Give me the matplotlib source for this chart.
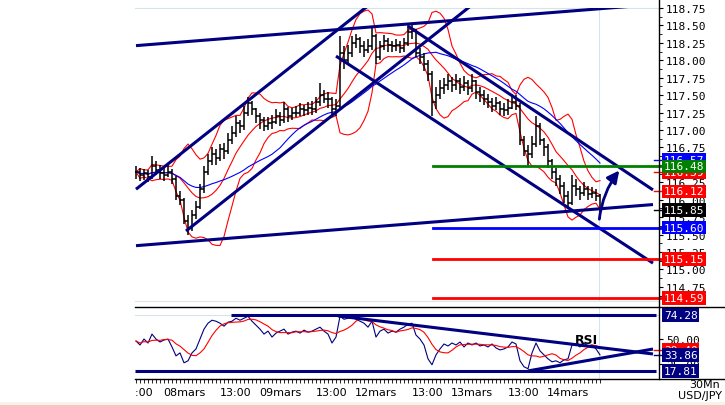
import numpy as np
import pandas as pd
import matplotlib
matplotlib.use("Agg")
import matplotlib.pyplot as plt
from matplotlib.lines import Line2D
from matplotlib.patches import FancyArrowPatch, Rectangle

# USD/JPY 30Mn, one bar per hour (07mars 12:00 -> 14mars 20:00)
close = [116.40, 116.35, 116.38, 116.33, 116.48, 116.42, 116.38, 116.35, 116.40, 116.30,
         116.05, 116.00, 115.70, 115.60, 115.78, 115.90, 116.15, 116.40, 116.55, 116.65,
         116.60, 116.72, 116.70, 116.85, 116.95, 117.10, 117.05, 117.25, 117.38, 117.30,
         117.20, 117.15, 117.05, 117.10, 117.12, 117.20, 117.15, 117.30, 117.20, 117.25,
         117.25, 117.30, 117.28, 117.32, 117.30, 117.40, 117.50, 117.45, 117.45, 117.30,
         117.35, 118.10, 118.00, 118.10, 118.25, 118.30, 118.20, 118.15, 118.20, 118.35,
         118.05, 118.20, 118.28, 118.22, 118.20, 118.22, 118.18, 118.25, 118.40, 118.42,
         118.10, 118.05, 117.95, 117.80, 117.40, 117.50, 117.60, 117.65, 117.70, 117.65,
         117.70, 117.62, 117.68, 117.60, 117.70, 117.55, 117.50, 117.45, 117.40, 117.35,
         117.38, 117.30, 117.28, 117.32, 117.40, 117.35, 116.85, 116.70, 116.65, 116.80,
         117.05, 116.85, 116.75, 116.55, 116.40, 116.30, 116.20, 116.05, 115.95, 116.20,
         116.15, 116.10, 116.15, 116.08, 116.10, 116.05, 115.85]
high = [116.48, 116.45, 116.44, 116.42, 116.62, 116.55, 116.50, 116.46, 116.50, 116.44,
        116.34, 116.12, 116.02, 115.78, 115.85, 115.98, 116.22, 116.48, 116.65, 116.75,
        116.72, 116.80, 116.82, 116.95, 117.05, 117.20, 117.15, 117.35, 117.48, 117.42,
        117.32, 117.25, 117.18, 117.18, 117.22, 117.30, 117.26, 117.40, 117.33, 117.32,
        117.35, 117.38, 117.36, 117.40, 117.42, 117.48, 117.68, 117.58, 117.55, 117.48,
        117.45, 118.35, 118.20, 118.22, 118.35, 118.38, 118.33, 118.28, 118.30, 118.48,
        118.38, 118.28, 118.36, 118.32, 118.28, 118.30, 118.28, 118.32, 118.50, 118.50,
        118.45, 118.18, 118.10, 118.00, 117.85, 117.62, 117.72, 117.75, 117.80, 117.76,
        117.80, 117.74, 117.78, 117.72, 117.80, 117.72, 117.62, 117.58, 117.52, 117.46,
        117.48, 117.42, 117.38, 117.45, 117.52, 117.50, 117.38, 116.92, 116.78, 116.92,
        117.20, 117.10, 116.88, 116.80, 116.58, 116.45, 116.35, 116.25, 116.12, 116.35,
        116.30, 116.20, 116.25, 116.20, 116.18, 116.15, 116.08]
low = [116.30, 116.27, 116.28, 116.25, 116.30, 116.35, 116.30, 116.27, 116.32, 116.22,
       116.00, 115.92, 115.65, 115.50, 115.55, 115.72, 115.86, 116.10, 116.35, 116.50,
       116.50, 116.55, 116.58, 116.65, 116.80, 116.90, 116.95, 117.00, 117.20, 117.22,
       117.10, 117.02, 116.98, 117.00, 117.02, 117.08, 117.05, 117.10, 117.12, 117.15,
       117.18, 117.20, 117.20, 117.22, 117.22, 117.25, 117.35, 117.38, 117.32, 117.18,
       117.20, 117.30, 117.88, 117.95, 118.05, 118.18, 118.10, 118.05, 118.10, 118.15,
       117.95, 118.00, 118.15, 118.12, 118.12, 118.14, 118.10, 118.12, 118.20, 118.30,
       118.05, 117.95, 117.85, 117.70, 117.20, 117.30, 117.45, 117.52, 117.58, 117.55,
       117.58, 117.52, 117.56, 117.50, 117.55, 117.45, 117.40, 117.36, 117.32, 117.26,
       117.28, 117.22, 117.20, 117.22, 117.30, 117.28, 116.78, 116.62, 116.48, 116.60,
       116.75, 116.78, 116.62, 116.45, 116.30, 116.20, 116.08, 115.95, 115.87, 115.92,
       116.05, 116.00, 116.05, 116.00, 116.02, 115.98, 115.72]
rsi = [48, 44, 50, 46, 55, 50, 47, 49, 50, 42, 33, 36, 26, 28, 36, 40, 50, 60, 66, 69,
       68, 66, 63, 67, 68, 71, 69, 71, 73, 68, 64, 60, 55, 58, 52, 56, 58, 60, 55, 57,
       58, 56, 59, 57, 58, 60, 62, 58, 55, 46, 52, 73, 70, 71, 72, 70, 68, 66, 62, 68,
       52, 58, 60, 56, 58, 57, 60, 62, 65, 66, 54, 50, 44, 30, 24, 34, 40, 45, 43, 46,
       44, 47, 42, 46, 44, 46, 43, 44, 42, 45, 41, 39, 40, 42, 47, 45, 28, 22, 20, 36,
       46, 38, 34, 30, 27, 28, 26, 29, 30, 44, 45, 42, 46, 43, 44, 40, 34]

date_pos = [0.5, 12, 25, 36, 49, 60, 73, 84, 97, 108]
date_labels = ["13:00", "08mars", "13:00", "09mars", "13:00", "12mars",
               "13:00", "13mars", "13:00", "14mars"]

# hand drawn lines (bar, price, bar, price)
trend_lines = [(0, 118.21, 129.25, 118.80),
               (0, 116.15, 59.5, 118.85),
               (12.5, 115.55, 85, 118.84),
               (50, 118.06, 129.25, 115.09),
               (68, 118.49, 129.25, 116.14),
               (0, 115.34, 129.25, 115.93)]
levels = [116.48, 115.60, 115.15, 114.59]
level_colors = ["#008000", "#0000ff", "#ff0000", "#ff0000"]
price_tags = [("116.57", 116.57, "#0000ff"), ("116.39", 116.39, "#ff0000"),
              ("116.48", 116.48, "#008000"), ("116.12", 116.12, "#ff0000"),
              ("115.85", 115.85, "#000000"), ("115.60", 115.60, "#0000ff"),
              ("115.15", 115.15, "#ff0000"), ("114.59", 114.59, "#ff0000")]
rsi_lines = [(23.75, 74.28, 130, 74.28),
             (-0.25, 17.81, 130, 17.81),
             (50.5, 73.3, 129.25, 34.9),
             (98, 17.8, 129.25, 39.9)]
rsi_tags = [("74.28", 74.28, "#000080"), ("39.40", 39.4, "#ff0000"),
            ("33.86", 33.86, "#000080"), ("17.81", 17.81, "#000080")]

NAVY = "#000080"
MONO = "DejaVu Sans Mono"

df = pd.DataFrame({"close": close, "high": high, "low": low})
x = np.arange(len(df))
opens = np.r_[close[0], close[:-1]]
mid = df["close"].rolling(10, min_periods=1).mean()
sd = df["close"].rolling(10, min_periods=1).std().fillna(0)
ma = df["close"].rolling(25, min_periods=1).mean()
rsi_sig = pd.Series(rsi).rolling(6, min_periods=1).mean()

W, H = 725, 406
fig = plt.figure(figsize=(W / 100, H / 100), dpi=100)
def px(l, t, r, b):
    return [l / W, 1 - b / H, (r - l) / W, (b - t) / H]

ax = fig.add_axes(px(135, 9, 659, 302))
ax.set_xlim(-0.25, 130.75)
ax.set_ylim(118.75 - 293 / 69.7, 118.75)

ax.plot(x, mid + 2 * sd, color="red", lw=0.8)
ax.plot(x, mid, color="red", lw=0.8)
ax.plot(x, mid - 2 * sd, color="red", lw=0.8)
ax.plot(x, ma, color="#0000ff", lw=0.8)
ax.vlines(x, df["low"], df["high"], color="black", lw=1.1, zorder=3)
ax.hlines(opens, x - 0.5, x, color="black", lw=1.1, zorder=3)
ax.hlines(close, x, x + 0.5, color="black", lw=1.1, zorder=3)
ax.axvline(115.75, color="#d3e4ec", lw=0.8, zorder=1)

for x0, y0, x1, y1 in trend_lines:
    ax.plot([x0, x1], [y0, y1], color=NAVY, lw=2.2, zorder=4, solid_capstyle="butt")
for lv, c in zip(levels, level_colors):
    ax.plot([74.25, 132.5], [lv, lv], color=c, lw=2, zorder=4, clip_on=False)

ax.add_patch(FancyArrowPatch((115.75, 115.68), (121.25, 116.45),
                             arrowstyle="-|>", mutation_scale=18, lw=2,
                             color=NAVY, connectionstyle="arc3,rad=-0.15", zorder=5))

# short markers next to the tags
for p, c in [(116.57, "#0000ff"), (116.39, "#ff0000"), (116.12, "#ff0000"), (115.85, "black")]:
    ax.plot([129.5, 132.5], [p, p], color=c, lw=1, clip_on=False, zorder=4)

ax.set_yticks(np.arange(114.75, 118.76, 0.25))
ax.set_yticks(np.arange(114.625, 118.76, 0.25), minor=True)
ax.yaxis.tick_right()
ax.yaxis.set_major_formatter(plt.FormatStrFormatter("%.2f"))
ax.tick_params(axis="y", which="major", length=3, pad=2, labelsize=8)
ax.tick_params(axis="y", which="minor", length=2)
for lab in ax.get_yticklabels():
    lab.set_family(MONO)
ax.set_xticks([])
ax.spines["left"].set_visible(False)
ax.spines["top"].set_color("#d6e4ea")
ax.spines["bottom"].set_color("#dfe6e9")
ax.spines["right"].set_visible(False)

def tag(a, y, text, color):
    a.text(1.0095, y, text, transform=a.get_yaxis_transform(), ha="left", va="center",
           color="white", fontsize=8, family=MONO, clip_on=False, zorder=10,
           bbox=dict(boxstyle="square,pad=0.15", fc=color, ec="none"))

for t, p, c in price_tags:
    tag(ax, p, t, c)

# RSI panel
ax2 = fig.add_axes(px(135, 308, 659, 380))
ax2.set_xlim(-0.25, 130.75)
ax2.set_ylim(74.28 - 64 / 0.99, 74.28 + 8 / 0.99)
ax2.axhline(74.28, color="#d6e4ea", lw=0.8)
ax2.plot(x, rsi, color=NAVY, lw=0.8)
ax2.plot(x, rsi_sig, color="red", lw=0.8)
ax2.axvline(115.75, color="#d3e4ec", lw=0.8, zorder=1)
for x0, y0, x1, y1 in rsi_lines:
    ax2.plot([x0, x1], [y0, y1], color=NAVY, lw=2.2, zorder=4, solid_capstyle="butt")
ax2.plot([129.5, 132.5], [39.4, 39.4], color="red", lw=1, clip_on=False)
ax2.plot([129.5, 132.5], [33.86, 33.86], color=NAVY, lw=1, clip_on=False)
ax2.text(112.5, 50, "RSI", fontsize=9, fontweight="bold", ha="center", va="center")
ax2.set_yticks([25, 50])
ax2.yaxis.tick_right()
ax2.yaxis.set_major_formatter(plt.FormatStrFormatter("%.2f"))
ax2.tick_params(axis="y", length=3, pad=2, labelsize=8)
for lab in ax2.get_yticklabels():
    lab.set_family(MONO)
ax2.set_xticks(x)
ax2.set_xticklabels([])
ax2.tick_params(axis="x", length=3, width=0.6, direction="out")
for s in ["left", "top", "bottom", "right"]:
    ax2.spines[s].set_visible(False)
for t, p, c in rsi_tags:
    tag(ax2, p, t, c)

# date strip
ax3 = fig.add_axes(px(135, 380, 659, 406))
ax3.set_xlim(-0.25, 130.75)
ax3.set_ylim(0, 1)
ax3.axis("off")
for p, lab in zip(date_pos, date_labels):
    ax3.text(p, 0.5, lab, fontsize=8, ha="center", va="center", clip_on=True)

fig.text(705 / W, 1 - 385 / H, "30Mn", fontsize=8, ha="center", va="center")
fig.text(700 / W, 1 - 396 / H, "USD/JPY", fontsize=8, ha="center", va="center")

# frame lines
fig.add_artist(Line2D([135 / W, 1], [1 - 308 / H] * 2, color="black", lw=1))
fig.add_artist(Line2D([135 / W, 1], [1 - 380 / H] * 2, color="black", lw=1))
fig.add_artist(Line2D([659 / W] * 2, [1 - 380 / H, 1], color="black", lw=1))
fig.add_artist(Rectangle((0, 0), 1, 3 / H, transform=fig.transFigure,
                         fc="#f3f5e6", ec="none"))

fig.savefig("out.png", dpi=100)
